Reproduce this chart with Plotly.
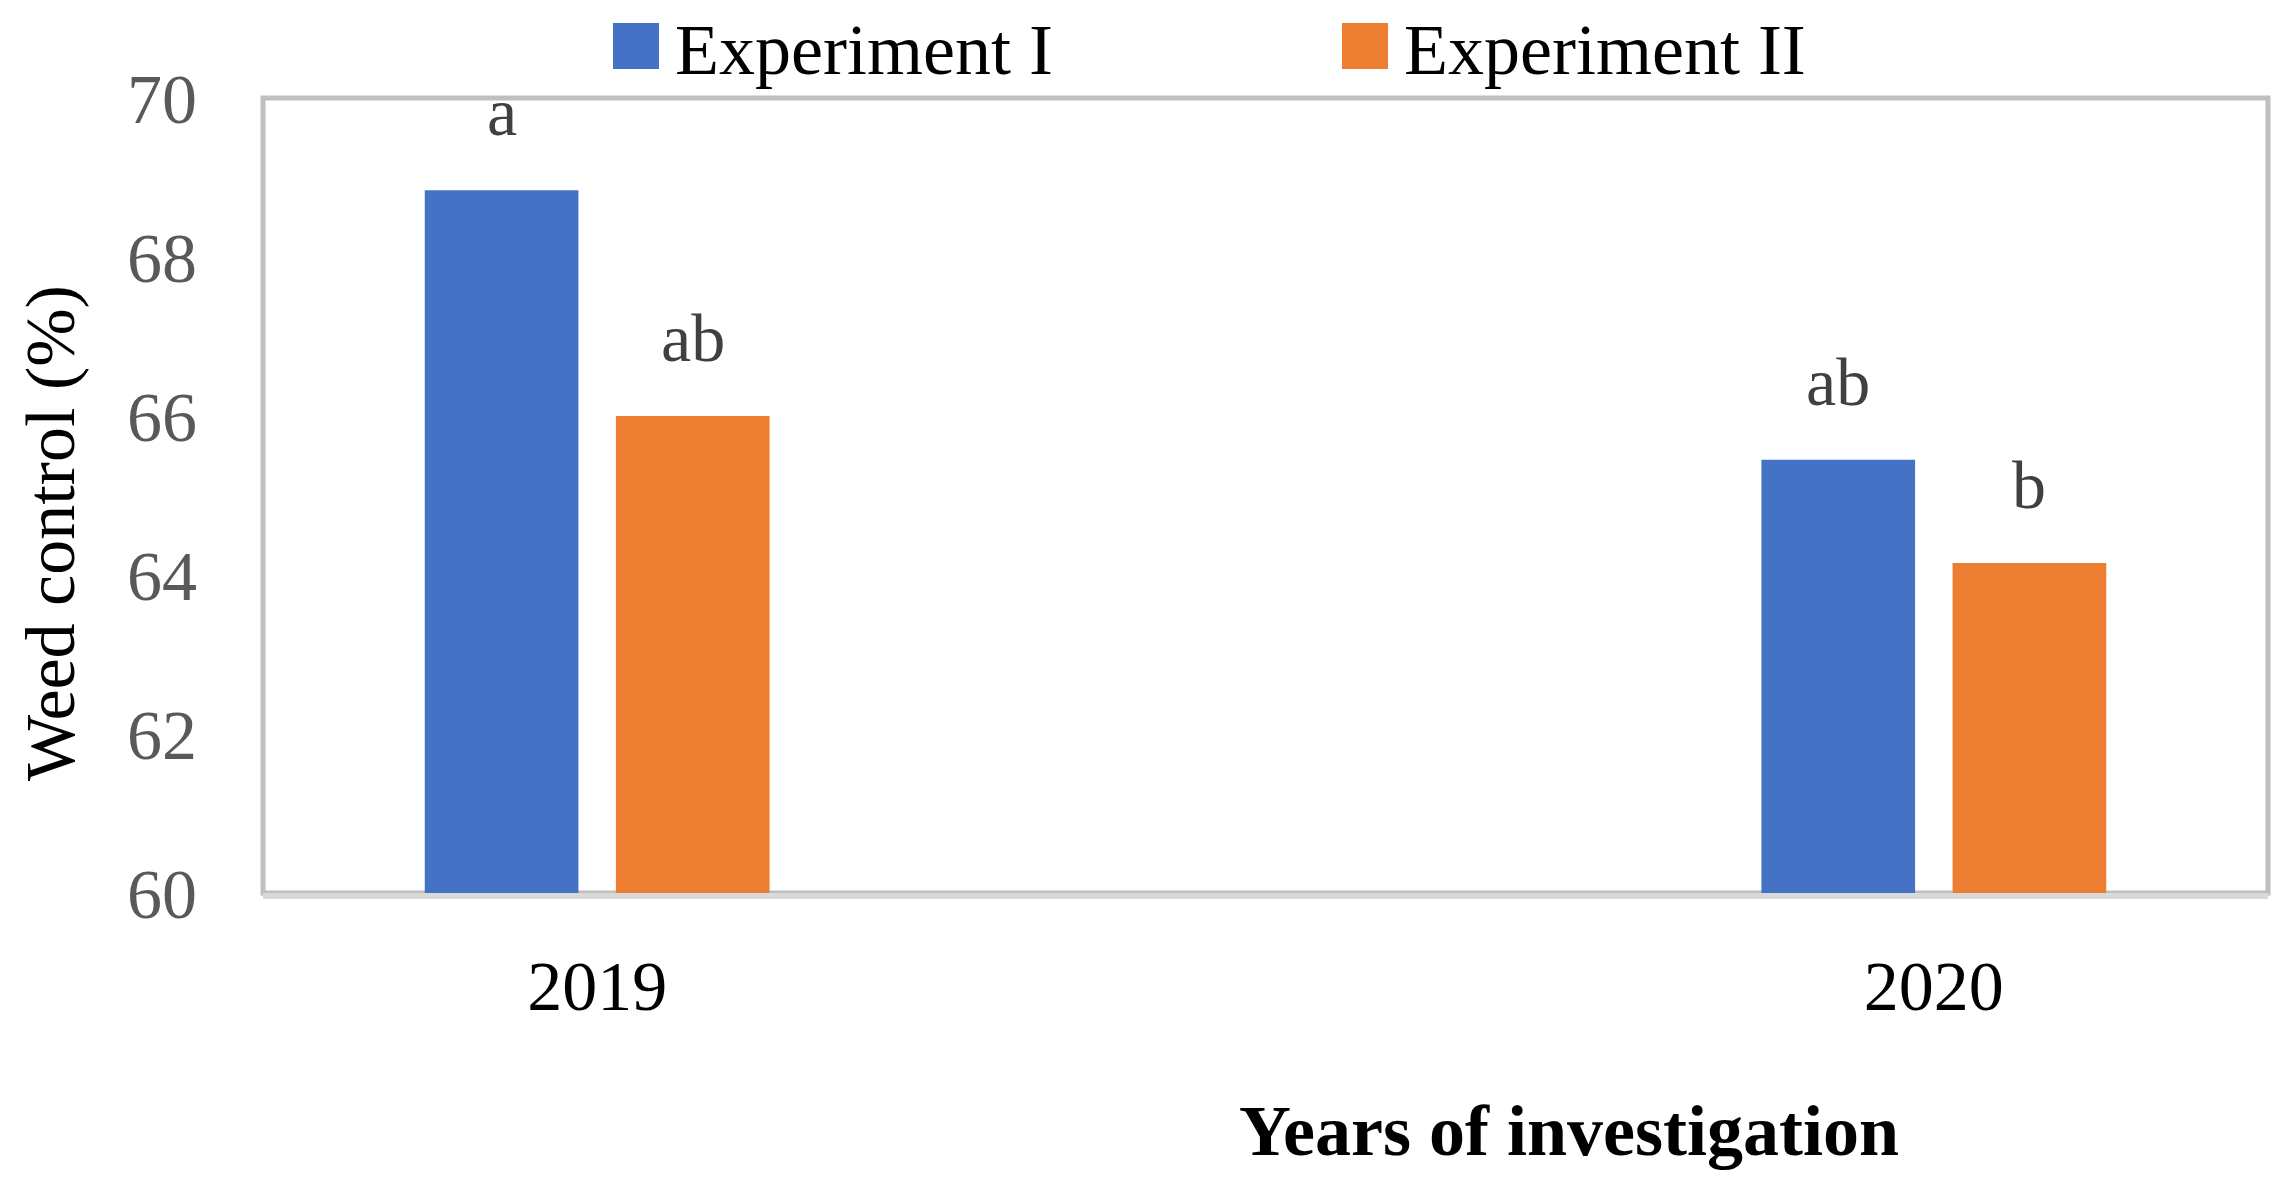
import plotly.graph_objects as go

# data
years = ["2019", "2020"]
exp1_values = [68.84, 65.45]
exp2_values = [66.0, 64.15]
exp1_letters = ["a", "ab"]
exp2_letters = ["ab", "b"]
series_names = ["Experiment I", "Experiment II"]
y_ticks = [60, 62, 64, 66, 68, 70]

BLUE = "#4472C4"
ORANGE = "#ED7D31"
FONT = "Palatino Linotype, Book Antiqua, Liberation Serif, serif"

W, H = 2293, 1192
ML, MR, MT, MB = 255, 33, 90, 307
BARGAP = 0.714
GROUPGAP = 0.196


def px_x(p):
    # pixel -> paper x
    return (p - ML) / (W - ML - MR)


def px_y(p):
    # pixel -> paper y
    return (H - MB - p) / (H - MT - MB)


fig = go.Figure()
fig.add_trace(go.Bar(x=years, y=exp1_values, name=series_names[0],
                     marker=dict(color=BLUE, line=dict(width=0))))
fig.add_trace(go.Bar(x=years, y=exp2_values, name=series_names[1],
                     marker=dict(color=ORANGE, line=dict(width=0))))

annotations = []
shapes = [dict(type="rect", xref="paper", yref="paper", x0=0, x1=1, y0=0, y1=1,
               line=dict(color="#BFBFBF", width=5), layer="below")]

# significance letters above each bar
slot = (1 - BARGAP) / 2
for j, (vals, letters) in enumerate([(exp1_values, exp1_letters), (exp2_values, exp2_letters)]):
    for i, (v, t) in enumerate(zip(vals, letters)):
        annotations.append(dict(
            x=i + (j - 0.5) * slot, y=v, xref="x", yref="y", text=t,
            showarrow=False, yanchor="bottom", yshift=38,
            font=dict(family=FONT, size=68, color="#404040"),
        ))

# legend drawn by hand so the swatches can be as big as in the original
for name, color, left in [(series_names[0], BLUE, 605), (series_names[1], ORANGE, 1334)]:
    shapes.append(dict(type="rect", xref="paper", yref="paper",
                       x0=px_x(left), x1=px_x(left + 46), y0=px_y(61), y1=px_y(15),
                       fillcolor=color, line=dict(width=0)))
    annotations.append(dict(
        x=px_x(left + 61), y=px_y(1), xref="paper", yref="paper",
        xanchor="left", yanchor="top", showarrow=False, borderpad=0,
        text=name, font=dict(family=FONT, size=72, color="#000000"),
    ))

# axis titles
annotations.append(dict(
    x=px_x(42), y=px_y(525), xref="paper", yref="paper", textangle=-90,
    xanchor="center", yanchor="middle", showarrow=False,
    text="Weed control (%)", font=dict(family=FONT, size=70, color="#000000"),
))
annotations.append(dict(
    x=px_x(1561), y=px_y(1123), xref="paper", yref="paper",
    xanchor="center", yanchor="middle", showarrow=False,
    text="<b>Years of investigation</b>", font=dict(family=FONT, size=72, color="#000000"),
))

fig.update_layout(
    width=W, height=H,
    margin=dict(l=ML, r=MR, t=MT, b=MB),
    paper_bgcolor="white", plot_bgcolor="white",
    barmode="group", bargap=BARGAP, bargroupgap=GROUPGAP,
    showlegend=False,
    annotations=annotations,
    shapes=shapes,
)
fig.update_xaxes(
    type="category", range=[-0.25, 1.25],
    showline=True, linecolor="#D9D9D9", linewidth=6,
    showgrid=False, zeroline=False, ticks="",
    ticklabelstandoff=27,
    tickfont=dict(family=FONT, size=70, color="#000000"),
)
fig.update_yaxes(
    range=[60, 70], tickvals=y_ticks,
    showline=False, showgrid=False, zeroline=False, ticks="",
    ticklabelstandoff=65,
    tickfont=dict(family=FONT, size=70, color="#595959"),
)

fig.write_html("out.html")
